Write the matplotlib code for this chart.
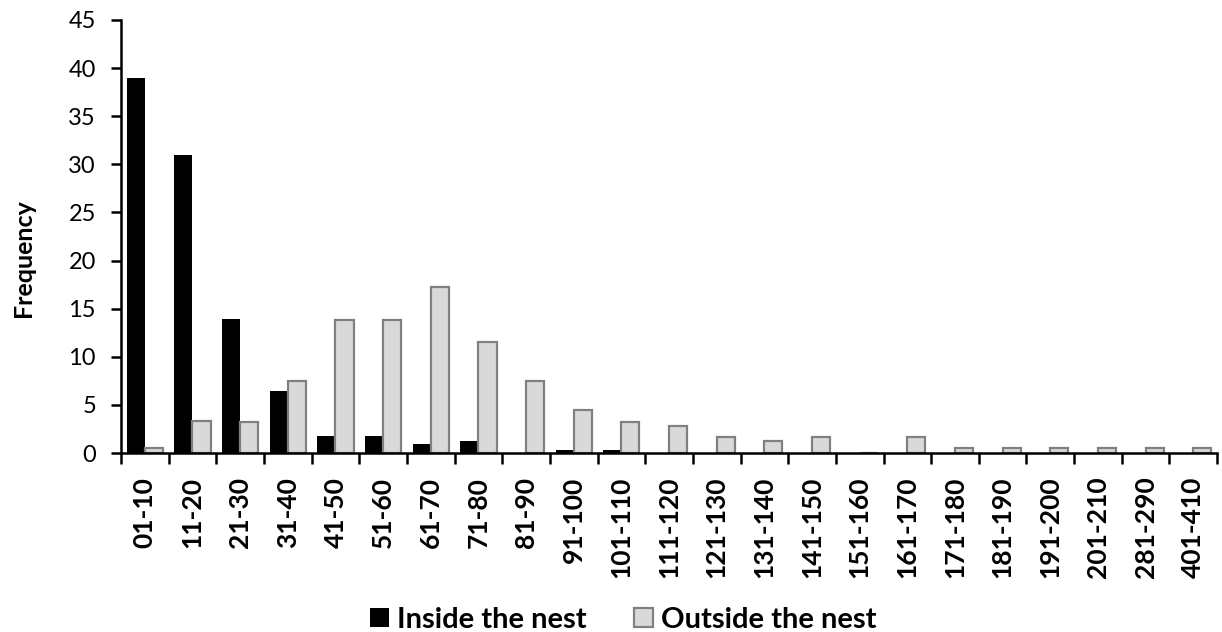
import matplotlib.pyplot as plt
import numpy as np


plt.rcParams['font.family'] = ['Lato', 'DejaVu Sans']

categories = ['01-10', '11-20', '21-30', '31-40', '41-50', '51-60', '61-70', '71-80',
              '81-90', '91-100', '101-110', '111-120', '121-130', '131-140', '141-150',
              '151-160', '161-170', '171-180', '181-190', '191-200', '201-210',
              '281-290', '401-410']
inside = [39, 31, 13.9, 6.4, 1.8, 1.8, 0.9, 1.25, 0, 0.3, 0.3, 0, 0, 0, 0,
          0, 0, 0, 0, 0, 0, 0, 0]
outside = [0.5, 3.3, 3.2, 7.5, 13.8, 13.8, 17.2, 11.5, 7.5, 4.5, 3.2, 2.85, 1.7, 1.2, 1.7,
           0, 1.7, 0.5, 0.5, 0.5, 0.5, 0.5, 0.5]
yticks = list(range(0, 50, 5))

fig = plt.figure(figsize=(12.22, 6.32), dpi=100)
ax = fig.add_axes([0.099, 0.2832, 0.897, 0.6852])

x = np.arange(len(categories))
w = 0.38
ax.bar(x - w / 2, inside, w, color='black', linewidth=0,
       label='Inside the nest')
ax.bar(x + w / 2, outside, w, color='#d9d9d9', edgecolor='#808080', linewidth=1.6,
       label='Outside the nest')

ax.set_xlim(-0.5, len(categories) - 0.5)
ax.set_ylim(0, 45)
ax.set_yticks(yticks)
ax.tick_params(axis='y', labelsize=17, direction='out', length=7, width=1.8, pad=11)

# labels under the groups, tick marks between groups
ax.set_xticks(x)
ax.set_xticklabels(categories, rotation=90, fontsize=19, fontweight='bold')
ax.tick_params(axis='x', length=0, pad=17)
ax.set_xticks(np.arange(len(categories) + 1) - 0.5, minor=True)
ax.tick_params(axis='x', which='minor', direction='out', length=8, width=1.8)

for s in ['top', 'right']:
    ax.spines[s].set_visible(False)
for s in ['left', 'bottom']:
    ax.spines[s].set_linewidth(1.8)
    ax.spines[s].set_zorder(5)

ax.set_ylabel('Frequency', fontsize=18, fontweight='bold')
ax.yaxis.set_label_coords(-0.078, 0.45)

fig.legend(loc='lower center', bbox_to_anchor=(0.51, -0.043), ncol=2, frameon=False,
           prop={'size': 21, 'weight': 'bold'}, handlelength=0.65, handleheight=0.65,
           handletextpad=0.25, columnspacing=1.65)

fig.savefig('out.png', dpi=100)
